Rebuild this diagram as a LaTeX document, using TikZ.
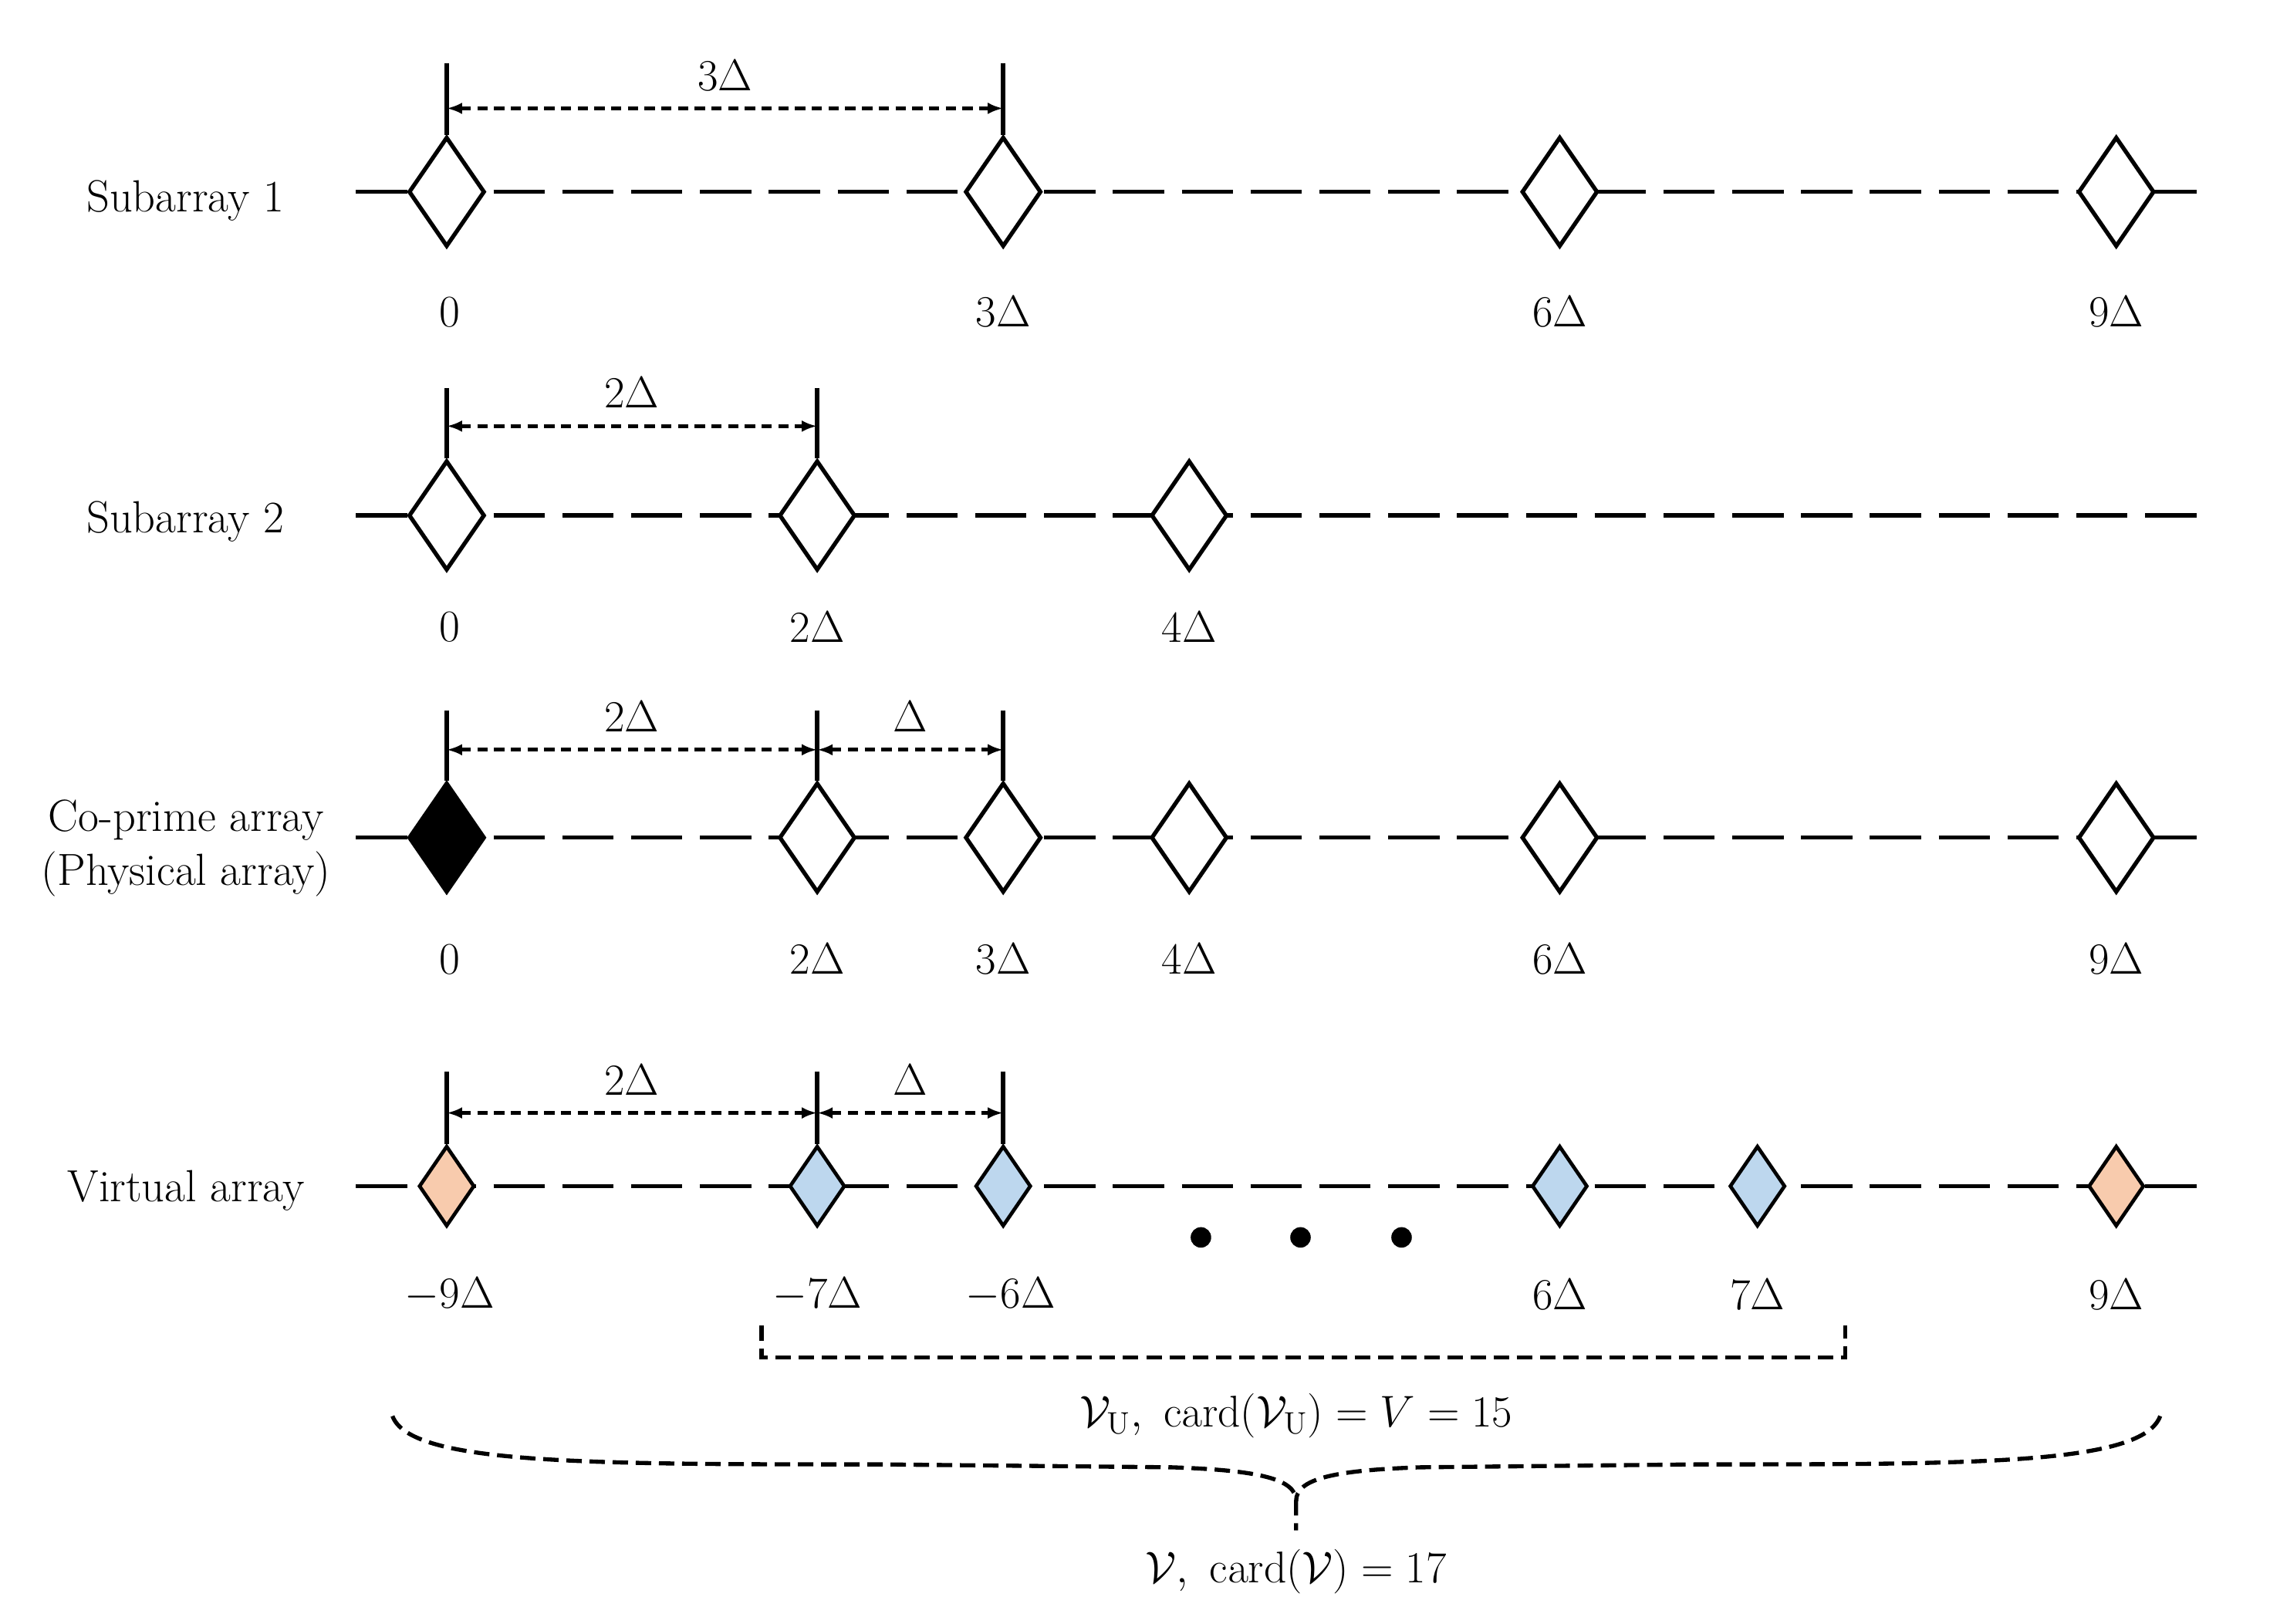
\documentclass[tikz,border=0pt]{standalone}
\usetikzlibrary{shapes.geometric,arrows.meta}
\begin{document}
\begin{tikzpicture}[x=0.02cm,y=-0.02cm,font=\fontsize{17.5}{21}\selectfont,
 axis/.style={line width=1.6pt,dash pattern=on 0.7cm off 0.24cm},
 el/.style={diamond,draw,line width=1.6pt,fill=white,inner sep=0pt,minimum width=1.04cm,minimum height=1.5cm},
 vel/.style={diamond,draw,line width=1.4pt,inner sep=0pt,minimum width=0.76cm,minimum height=1.1cm},
 tick/.style={line width=1.8pt},
 dim/.style={line width=1.4pt,dash pattern=on 4pt off 2.5pt,{Latex[length=6pt]}-{Latex[length=6pt]}},
 brk/.style={line width=1.6pt,dash pattern=on 6pt off 3pt}]
\useasboundingbox (0,0) rectangle (1550,1109);
% row 1
\draw[axis] (243,131) -- (1505,131);
\node[el] (a0) at (305,131) {}; \node[el] (a3) at (685,131) {};
\node[el] (a6) at (1065,131) {}; \node[el] (a9) at (1445,131) {};
\coordinate (t1a) at (305,43); \coordinate (t1b) at (685,43);
\draw[tick] (t1a) -- (a0.north); \draw[tick] (t1b) -- (a3.north);
\draw[dim] (305,74) -- node[above=3pt]{$3\Delta$} (685,74);
\node[anchor=east] at (200,137) {Subarray 1};
\node at (307,213) {0}; \node at (685,213) {$3\Delta$}; \node at (1065,213) {$6\Delta$}; \node at (1445,213) {$9\Delta$};
% row 2
\draw[axis] (243,352) -- (1505,352);
\node[el] (b0) at (305,352) {}; \node[el] (b2) at (558,352) {}; \node[el] (b4) at (812,352) {};
\coordinate (t2a) at (305,265); \coordinate (t2b) at (558,265);
\draw[tick] (t2a) -- (b0.north); \draw[tick] (t2b) -- (b2.north);
\draw[dim] (305,291) -- node[above=3pt]{$2\Delta$} (558,291);
\node[anchor=east] at (200,356) {Subarray 2};
\node at (307,428) {0}; \node at (558,428) {$2\Delta$}; \node at (812,428) {$4\Delta$};
% row 3
\draw[axis] (243,572) -- (1505,572);
\node[el,fill=black] (c0) at (305,572) {}; \node[el] (c2) at (558,572) {}; \node[el] (c3) at (685,572) {};
\node[el] (c4) at (812,572) {}; \node[el] (c6) at (1065,572) {}; \node[el] (c9) at (1445,572) {};
\coordinate (t3a) at (305,485); \coordinate (t3b) at (558,485); \coordinate (t3c) at (685,485);
\draw[tick] (t3a) -- (c0.north); \draw[tick] (t3b) -- (c2.north); \draw[tick] (t3c) -- (c3.north);
\draw[dim] (305,512) -- node[above=3pt]{$2\Delta$} (558,512);
\draw[dim] (558,512) -- node[above=3pt]{$\Delta$} (685,512);
\node[align=center] at (127,579) {Co-prime array\\(Physical array)};
\node at (307,655) {0}; \node at (558,655) {$2\Delta$}; \node at (685,655) {$3\Delta$};
\node at (812,655) {$4\Delta$}; \node at (1065,655) {$6\Delta$}; \node at (1445,655) {$9\Delta$};
% row 4
\draw[axis] (243,810) -- (1505,810);
\node[vel,fill={rgb,255:red,248;green,203;blue,173}] (d0) at (305,810) {};
\node[vel,fill={rgb,255:red,189;green,215;blue,238}] (d2) at (558,810) {};
\node[vel,fill={rgb,255:red,189;green,215;blue,238}] (d3) at (685,810) {};
\node[vel,fill={rgb,255:red,189;green,215;blue,238}] (d15) at (1065,810) {};
\node[vel,fill={rgb,255:red,189;green,215;blue,238}] (d16) at (1200,810) {};
\node[vel,fill={rgb,255:red,248;green,203;blue,173}] (d18) at (1445,810) {};
\coordinate (t4a) at (305,732); \coordinate (t4b) at (558,732); \coordinate (t4c) at (685,732);
\draw[tick] (t4a) -- (d0.north); \draw[tick] (t4b) -- (d2.north); \draw[tick] (t4c) -- (d3.north);
\draw[dim] (305,760) -- node[above=3pt]{$2\Delta$} (558,760);
\draw[dim] (558,760) -- node[above=3pt]{$\Delta$} (685,760);
\node at (127,813) {Virtual array};
\foreach \x in {820,888,957} \fill (\x,845) circle (7);
\node at (307,884) {$-9\Delta$}; \node at (558,884) {$-7\Delta$}; \node at (690,884) {$-6\Delta$};
\node at (1065,884) {$6\Delta$}; \node at (1200,884) {$7\Delta$}; \node at (1445,884) {$9\Delta$};
% brackets
\draw[brk] (520,905) -- (520,927) -- (1260,927) -- (1260,905);
\node at (885,967) {$\mathcal{V}_{\mathrm{U}},\ \mathrm{card}(\mathcal{V}_{\mathrm{U}})=V=15$};
\draw[brk] (268,967) .. controls (280,1000) and (400,1000) .. (600,1000) -- (800,1002)
  .. controls (860,1004) and (885,1010) .. (885,1025) -- (885,1045);
\draw[brk] (1475,967) .. controls (1463,1000) and (1350,1000) .. (1160,1000) -- (970,1002)
  .. controls (910,1004) and (885,1010) .. (885,1025);
\node at (885,1073) {$\mathcal{V},\ \mathrm{card}(\mathcal{V})=17$};
\end{tikzpicture}
\end{document}
